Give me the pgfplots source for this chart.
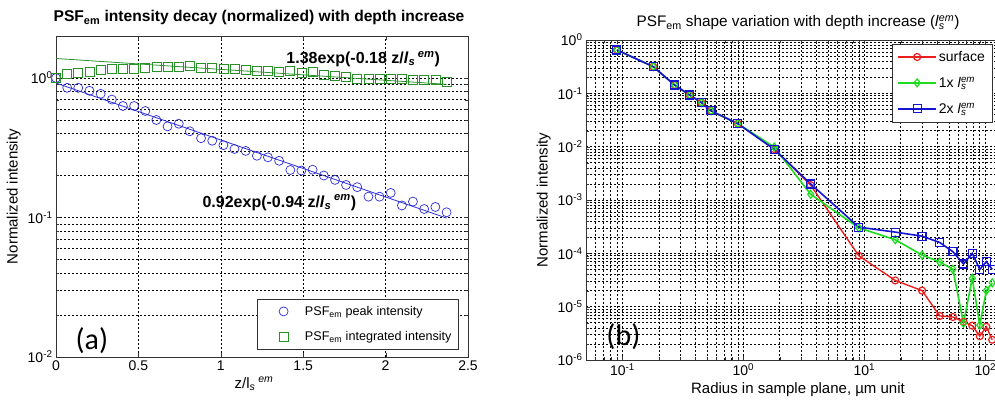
\documentclass[border=0pt]{standalone}
\usepackage{fontspec}
\setmainfont{Liberation Sans}
\newfontfamily\carlito{Carlito}
\usepackage{pgfplots}
\pgfplotsset{compat=1.18}

\definecolor{pkblue}{RGB}{45,45,215}
\definecolor{intgreen}{RGB}{40,145,40}
\definecolor{surfred}{RGB}{235,30,30}
\definecolor{onegreen}{RGB}{30,220,30}
\definecolor{twoblue}{RGB}{20,20,210}

% z/l_s^em, peak and integrated intensity (normalized)
\pgfplotstableread{
z     peak   integ
0     1.0    1.0
0.068 0.85   1.07
0.135 0.85   1.09
0.203 0.81   1.10
0.271 0.77   1.15
0.339 0.70   1.16
0.406 0.63   1.16
0.474 0.63   1.16
0.542 0.58   1.19
0.609 0.50   1.20
0.677 0.45   1.20
0.745 0.47   1.20
0.812 0.415  1.22
0.880 0.37   1.19
0.948 0.355  1.19
1.016 0.33   1.17
1.083 0.31   1.16
1.151 0.30   1.14
1.219 0.277  1.12
1.286 0.27   1.12
1.354 0.255  1.11
1.422 0.219  1.12
1.489 0.217  1.09
1.557 0.22   1.10
1.625 0.20   1.05
1.693 0.186  1.03
1.760 0.171  1.02
1.828 0.165  0.99
1.896 0.141  0.99
1.963 0.141  0.99
2.031 0.150  0.99
2.099 0.122  0.98
2.166 0.130  0.975
2.234 0.115  0.975
2.302 0.119  0.97
2.370 0.109  0.94
}\decay

% radius (um), surface, 1x, 2x
\pgfplotstableread{
r     surf    one     two
0.09  0.65    0.65    0.65
0.18  0.316   0.316   0.316
0.27  0.143   0.143   0.143
0.36  0.093   0.093   0.093
0.45  0.067   0.067   0.067
0.54  0.047   0.047   0.047
0.9   0.027   0.027   0.027
1.8   0.009   0.0098  0.0089
3.6   0.0019  0.00128 0.002
9     9e-5    3e-4    3.1e-4
18    3.1e-5  1.8e-4  2.5e-4
30    2e-5    9.3e-5  2.1e-4
42    6.7e-6  6.9e-5  1.6e-4
54    6.4e-6  5e-5    1.07e-4
66    5.2e-6  4.9e-6  6.3e-5
78    4.4e-6  3.4e-5  1.0e-4
90    2.8e-6  4.5e-6  5e-5
102   4.2e-6  2.0e-5  7e-5
114   2.4e-6  2.8e-5  5e-5
}\shape

\pgfplotsset{
  matgrid/.style={
    scale only axis,
    axis line style={black!80, line width=0.8pt},
    tick style={black!80},
    major grid style={black, dash pattern=on 2pt off 2pt, line width=0.6pt},
    minor grid style={black, dash pattern=on 2pt off 2pt, line width=0.6pt},
    tick label style={font=\fontsize{14}{14}\selectfont},
    label style={font=\fontsize{15}{15}\selectfont},
    legend cell align=left,
  },
  markleg/.style={legend image code/.code={\path (0pt,0pt) (40pt,0pt); \draw[##1] plot coordinates {(21pt,0pt)};}},
}

\newcommand{\lsem}{\textit{l}\rlap{\textsubscript{\textit{s}}}\textsuperscript{\textit{em}}}

\begin{document}
\begin{tikzpicture}
\useasboundingbox (0,0) rectangle (995pt,406pt);
\clip (0,0) rectangle (995pt,406pt);

% (a) decay with depth
\begin{axis}[matgrid,
  at={(56pt,49pt)}, anchor=south west,
  width=412pt, height=321pt,
  xmin=0, xmax=2.5, ymode=log, ymin=0.01, ymax=2,
  xtick={0,0.5,1,1.5,2,2.5},
  xticklabels={0,0.5,1,1.5,2,2.5},
  ytick={0.01,0.1,1},
  yticklabels={10\textsuperscript{-2},10\textsuperscript{-1},10\textsuperscript{0}},
  minor ytick={0.02,0.03,0.04,0.05,0.06,0.07,0.08,0.09,0.2,0.3,0.4,0.5,0.6,0.7,0.8,0.9,2},
  xmajorgrids, ymajorgrids, yminorgrids,
  xlabel={z/l\textsubscript{\textit{s}}\hspace{3pt}\textsuperscript{\textit{em}}},
  xlabel style={xshift=-8pt},
  ylabel={Normalized intensity},
  legend style={at={(0.488,0.181)}, anchor=north west, draw=black!80,
    font=\fontsize{12.6}{13}\selectfont, row sep=11pt, inner sep=5pt},
]
\addplot[only marks, mark=o, mark size=4.5pt, pkblue, line width=0.7pt, markleg] table[x=z, y=peak] {\decay};
\addlegendentry{PSF\textsubscript{em} peak intensity}
\addplot[only marks, mark=square, mark size=4.5pt, intgreen, line width=0.7pt, markleg] table[x=z, y=integ] {\decay};
\addlegendentry{PSF\textsubscript{em} integrated intensity}
\addplot[pkblue, line width=0.8pt, forget plot] coordinates {(0,0.92) (2.37,0.0991)};
\addplot[intgreen, line width=0.8pt, forget plot] coordinates {(0,1.38) (2.37,0.9007)};
\node[anchor=west, font=\fontsize{16}{16}\selectfont\bfseries] at (axis cs:1.377,1.37)
  {1.38exp(-0.18 z/\textit{l}\textsubscript{\textit{s}}\,\textsuperscript{\textit{em}})};
\node[anchor=west, font=\fontsize{16}{16}\selectfont\bfseries] at (axis cs:0.868,0.128)
  {0.92exp(-0.94 z/\textit{l}\textsubscript{\textit{s}}\,\textsuperscript{\textit{em}})};
\node[font=\fontsize{30}{30}\selectfont\carlito] at (axis cs:0.218,0.0132) {(a)};
\end{axis}

% (b) shape variation
\begin{axis}[matgrid,
  at={(586pt,46pt)}, anchor=south west,
  width=424pt, height=320pt,
  xmode=log, ymode=log, xmin=0.05, xmax=160, ymin=1e-6, ymax=1,
  xtick={0.1,1,10,100},
  xticklabels={10\textsuperscript{-1},10\textsuperscript{0},10\textsuperscript{1},10\textsuperscript{2}},
  ytick={1e-6,1e-5,1e-4,1e-3,1e-2,1e-1,1},
  yticklabels={10\textsuperscript{-6},10\textsuperscript{-5},10\textsuperscript{-4},10\textsuperscript{-3},10\textsuperscript{-2},10\textsuperscript{-1},10\textsuperscript{0}},
  minor xtick={0.05,0.06,0.07,0.08,0.09,0.2,0.3,0.4,0.5,0.6,0.7,0.8,0.9,2,3,4,5,6,7,8,9,20,30,40,50,60,70,80,90},
  minor ytick={2e-6,3e-6,4e-6,5e-6,6e-6,7e-6,8e-6,9e-6,2e-5,3e-5,4e-5,5e-5,6e-5,7e-5,8e-5,9e-5,2e-4,3e-4,4e-4,5e-4,6e-4,7e-4,8e-4,9e-4,2e-3,3e-3,4e-3,5e-3,6e-3,7e-3,8e-3,9e-3,0.02,0.03,0.04,0.05,0.06,0.07,0.08,0.09,0.2,0.3,0.4,0.5,0.6,0.7,0.8,0.9},
  grid=both,
  xlabel={Radius in sample plane, µm unit},
  ylabel={Normalized intensity},
  legend style={at={(0.722,0.9875)}, anchor=north west, draw=black!80, fill=white,
    font=\fontsize{14}{14}\selectfont, row sep=10pt, inner sep=5pt},
  legend image code/.code={\draw[mark repeat=2, mark phase=2, #1] plot coordinates {(0pt,0pt) (19pt,0pt) (38pt,0pt)};},
]
\addplot[surfred, line width=1.4pt, mark=o, mark size=3.5pt, mark options={solid, line width=1.2pt}] table[x=r, y=surf] {\shape};
\addlegendentry{surface}
\addplot[onegreen, line width=1.6pt, mark=diamond, mark size=4pt, mark options={solid, line width=1.2pt}] table[x=r, y=one] {\shape};
\addlegendentry{1x \lsem}
\addplot[twoblue, line width=1.6pt, mark=square, mark size=4pt, mark options={solid, line width=1.2pt}] table[x=r, y=two] {\shape};
\addlegendentry{2x \lsem}
\node[font=\fontsize{30}{30}\selectfont\carlito] at (axis cs:0.102,2.7e-6) {(b)};
\end{axis}

\node[anchor=base, font=\fontsize{15.6}{16}\selectfont\bfseries] at (259pt,384pt)
  {PSF\textsubscript{em} intensity decay (normalized) with depth increase};
\node[anchor=base, font=\fontsize{15.3}{16}\selectfont] at (798pt,379pt)
  {PSF\textsubscript{em} shape variation with depth increase (\lsem)};
\end{tikzpicture}
\end{document}
